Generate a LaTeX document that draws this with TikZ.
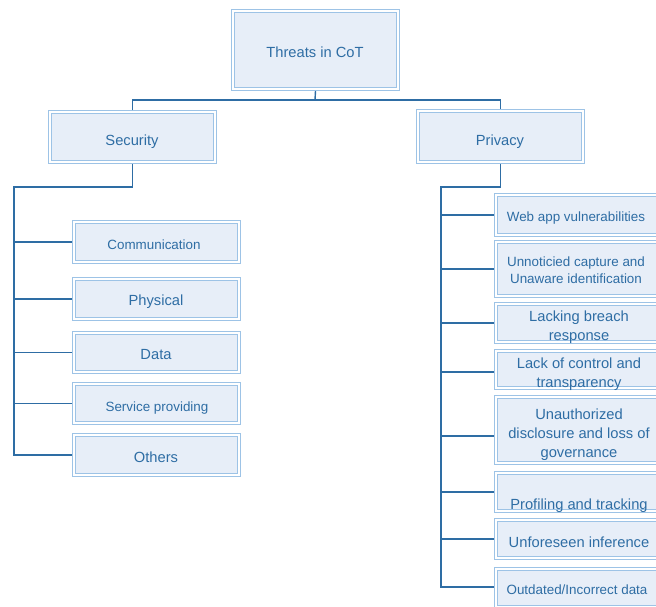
\documentclass[tikz,border=0pt]{standalone}
\usepackage{fontspec}
\setmainfont{Liberation Sans}
\definecolor{boxline}{HTML}{9DC3E6}
\definecolor{boxfill}{HTML}{E7EEF8}
\definecolor{txtblue}{HTML}{2E6DA4}
\definecolor{connblue}{HTML}{2E6DA4}
\begin{document}
\begin{tikzpicture}[x=1pt,y=-1pt,
  box/.style={draw=boxline, line width=1pt, double=white, double distance=2pt,
    fill=boxfill, rectangle, inner sep=0pt, outer sep=2pt, minimum width=165pt},
  txtS/.style={text=txtblue, anchor=base, inner sep=0pt, font=\fontsize{13.4}{16}\selectfont},
  txtL/.style={text=txtblue, anchor=base, inner sep=0pt, font=\fontsize{14.7}{18}\selectfont},
  conn/.style={draw=connblue, line width=1.4pt}]
\useasboundingbox (0,0) rectangle (656,606);
\clip (0,0) rectangle (656,606);
% boxes
\node[box, minimum height=78pt] (root) at (315.5,50) {};
\node[box, minimum height=50pt] (sec) at (132.5,137) {};
\node[box, minimum height=51pt] (priv) at (500.5,136.5) {};
\node[box, minimum height=40pt] (c1) at (156.5,242) {};
\node[box, minimum height=40pt] (c2) at (156.5,299) {};
\node[box, minimum height=39pt] (c3) at (156.5,352.5) {};
\node[box, minimum height=39pt] (c4) at (156.5,403.5) {};
\node[box, minimum height=40pt] (c5) at (156.5,455) {};
\node[box, minimum height=40pt] (p1) at (578.5,215) {};
\node[box, minimum height=54pt] (p2) at (578.5,269) {};
\node[box, minimum height=38pt] (p3) at (578.5,323) {};
\node[box, minimum height=37pt] (p4) at (578.5,369.5) {};
\node[box, minimum height=66pt] (p5) at (578.5,430) {};
\node[box, minimum height=38pt] (p6) at (578.5,492) {};
\node[box, minimum height=38pt] (p7) at (578.5,539) {};
\node[box, minimum height=38pt] (p8) at (578.5,588) {};
% texts
\node[txtL] (troot) at (315,57) {Threats in CoT};
\node[txtL] (tsec) at (132,145) {Security};
\node[txtL] (tpriv) at (500,145) {Privacy};
\node[txtS] (tc1) at (154,249) {Communication};
\node[txtL] (tc2) at (156,305) {Physical};
\node[txtL] (tc3) at (156,359) {Data};
\node[txtS] (tc4) at (157,411) {Service providing};
\node[txtL] (tc5) at (156,462) {Others};
\node[txtS] (tp1) at (576,221) {Web app vulnerabilities};
\node[txtS] (tp2a) at (576,266) {Unnoticied capture and};
\node[txtS] (tp2b) at (576,283) {Unaware identification};
\node[txtL] (tp3a) at (579,321) {Lacking breach};
\node[txtL] (tp3b) at (579,340) {response};
\node[txtL] (tp4a) at (579,368) {Lack of control and};
\node[txtL] (tp4b) at (579,387) {transparency};
\node[txtL] (tp5a) at (579,419) {Unauthorized};
\node[txtL] (tp5b) at (579,438) {disclosure and loss of};
\node[txtL] (tp5c) at (579,457) {governance};
\node[txtL] (tp6) at (579,509) {Profiling and tracking};
\node[txtL] (tp7) at (579,547) {Unforeseen inference};
\node[txtS] (tp8) at (577,594) {Outdated/Incorrect data};
% connectors
\coordinate (bus) at (315,100);
\coordinate (spineL) at (14,187);
\coordinate (spineR) at (441,187);
\draw[conn] (root.south) -- (bus);
\draw[conn] (sec.north) -- (sec.north |- bus) -- (priv.north |- bus) -- (priv.north);
\draw[conn] (sec.south) -- (sec.south |- spineL) -- (spineL) -- (spineL |- c5.west) -- (c5.west);
\foreach \n in {c1,c2,c3,c4} \draw[conn] (spineL |- \n.west) -- (\n.west);
\coordinate (b4) at ([yshift=-2.5pt]p4.west);
\coordinate (b5) at ([yshift=-6pt]p5.west);
\coordinate (b8) at ([yshift=1pt]p8.west);
\draw[conn] (priv.south) -- (priv.south |- spineR) -- (spineR) -- (spineR |- b8) -- (b8);
\foreach \n in {p1,p2,p3,p6,p7} \draw[conn] (spineR |- \n.west) -- (\n.west);
\foreach \n in {b4,b5} \draw[conn] (spineR |- \n) -- (\n);
\end{tikzpicture}
\end{document}
